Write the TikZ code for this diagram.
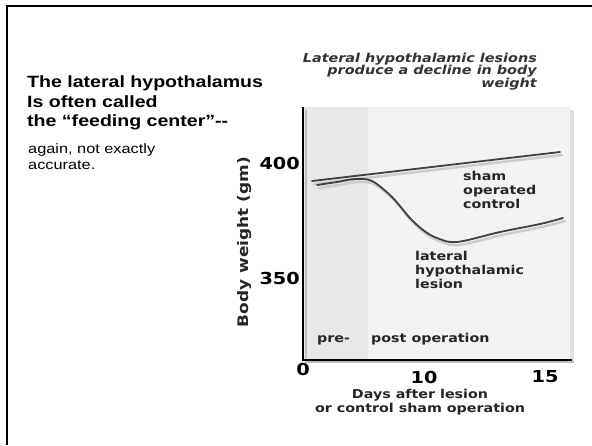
\documentclass[tikz,border=0pt]{standalone}
\usepackage{fontspec}
\setmainfont[FakeStretch=1.2]{Liberation Sans}
\newfontfamily\chartfont[FakeStretch=1.17]{DejaVu Sans}
\begin{document}
\begin{tikzpicture}[x=1pt,y=-1pt,
  lefttext/.style={anchor=base west,inner sep=0pt,font=\bfseries\fontsize{16.3}{19}\selectfont},
  smalltext/.style={anchor=base west,inner sep=0pt,font=\fontsize{13.6}{15}\selectfont},
  titletext/.style={anchor=base east,inner sep=0pt,text=black!80,font=\chartfont\bfseries\itshape\fontsize{12.3}{12.5}\selectfont},
  label/.style={inner sep=0pt,text=black!85,font=\chartfont\bfseries\fontsize{12.2}{14}\selectfont},
  ticklab/.style={inner sep=0pt,font=\chartfont\bfseries\fontsize{16.5}{17}\selectfont},
  curve/.style={draw=black!75,line width=1.8pt,line cap=round,line join=round},
  shadowline/.style={draw=black!20,line width=2.5pt,line cap=round,line join=round},
  axis/.style={draw=black,line width=2pt}]
\useasboundingbox (0,0) rectangle (592,445);
\fill[white] (0,0) rectangle (592,445);
% frame
\draw[line width=2.2pt] (7,445) -- (7,6) -- (592,6);
% left text
\node[lefttext] (l1) at (27,87) {The lateral hypothalamus};
\node[lefttext] (l2) at (27,107) {Is often called};
\node[lefttext] (l3) at (27,126) {the “feeding center”-{}-};
\node[smalltext] (l4) at (28,153) {again, not exactly};
\node[smalltext] (l5) at (28,169) {accurate.};
% title
\node[titletext] (t1) at (537,62) {Lateral hypothalamic lesions};
\node[titletext] (t2) at (537,74.5) {produce a decline in body};
\node[titletext] (t3) at (537,87) {weight};
% panel
\fill[black!12] (306,110) rectangle (574,362);
\fill[black!9] (304,107) rectangle (368,359);
\fill[black!5] (368,107) rectangle (570,359);
% axes
\draw[black!25,line width=2.5pt] (306,110) -- (306,362) -- (574,362);
\draw[axis] (303,107) -- (303,360) -- (572,360);
% curves
\draw[shadowline] (314,184) -- (562,155);
\draw[shadowline,shift={(2,3)}] plot[smooth,tension=0.55] coordinates
  {(317,185) (337,182) (355,179) (372,181) (392,197) (409,217) (423,230) (437,238) (457,242) (500,232) (540,224) (563,218)};
\draw[curve] (312,181) -- (560,152);
\draw[curve] plot[smooth,tension=0.55] coordinates
  {(317,185) (337,182) (355,179) (372,181) (392,197) (409,217) (423,230) (437,238) (457,242) (500,232) (540,224) (563,218)};
% curve labels (base = last line)
\node[label,anchor=base west,align=left] (sham) at (463,208) {sham\\operated\\control};
\node[label,anchor=base west,align=left] (lat) at (415,288) {lateral\\hypothalamic\\lesion};
\node[label,anchor=base west] (pre) at (317,342) {pre-};
\node[label,anchor=base west] (post) at (371,342) {post operation};
% ticks
\node[ticklab,anchor=base east] (y400) at (300,169) {400};
\node[ticklab,anchor=base east] (y350) at (300,284) {350};
\node[ticklab] (x0) at (303,369) {0};
\node[ticklab] (x10) at (424,377) {10};
\node[ticklab] (x15) at (545,377) {15};
% axis titles
\node[label,align=center] (xt) at (420,402) {Days after lesion\\or control sham operation};
\node[label,rotate=90,font=\chartfont\bfseries\fontsize{14.5}{15}\selectfont] (yt) at (245,242) {Body weight (gm)};
\end{tikzpicture}
\end{document}
